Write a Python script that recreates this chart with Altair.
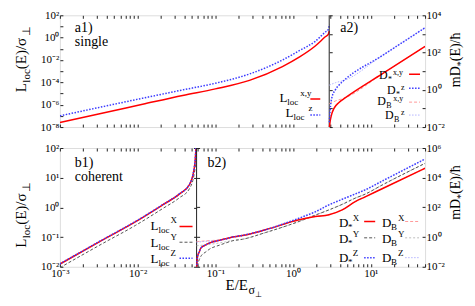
import altair as alt
import pandas as pd
import math

FONT = "Liberation Serif"

# ---------------- data ----------------
# a1) single impurity, localisation length
a1_E = [0.001, 0.0036, 0.0116, 0.038, 0.1, 0.275, 0.73, 1.2, 1.93, 2.6, 2.85, 2.92]
a1_Lxy = [2.6e-8, 1.8e-7, 1.1e-6, 6.8e-6, 2.6e-5, 1.5e-4, 2.6e-3, 1.8e-2, 0.18, 1.2, 2.1, 3.8]
a1_Lz = [1.0e-7, 6.8e-7, 3.8e-6, 2.1e-5, 8.3e-5, 5.6e-4, 1.0e-2, 6.8e-2, 0.47, 3.2, 5.6, 15]

# a2) single impurity, diffusion
a2_Exy = [2.93, 3.0, 3.1, 3.36, 3.9, 4.73, 14, 50]
a2_Dxy = [0.008, 0.02, 0.04, 0.1, 0.21, 0.38, 7.1, 214]
a2_Ez = [2.93, 3.0, 3.16, 3.5, 3.89, 4.5, 14, 50]
a2_Dz = [0.018, 0.08, 0.38, 1.0, 1.78, 3.16, 68, 2150]
a2_EBxy = [2.93, 3.5, 4.73, 14, 50]
a2_DBxy = [0.18, 0.25, 0.38, 7.1, 214]
a2_EBz = [2.93, 3.5, 4.5, 14, 50]
a2_DBz = [1.78, 2.4, 3.16, 68, 2150]

# b1) coherent, localisation length
b1_E = [0.001, 0.00356, 0.00945, 0.021, 0.0344, 0.0463, 0.0536, 0.0557, 0.0563, 0.0572]
b1_LX = [0.0123, 0.080, 0.33, 1.21, 2.78, 5.7, 21, 58, 100, 300]
b1_LY = [0.0093, 0.061, 0.25, 0.91, 2.1, 4.2, 14, 32, 60, 180]
b1_LZ = [0.0125, 0.082, 0.34, 1.23, 2.85, 5.9, 22, 62, 110, 320]

# b2) coherent, diffusion
b2_E = [0.0574, 0.0591, 0.0621, 0.0651, 0.0755, 0.0835, 0.112, 0.136, 0.166, 0.223,
        0.441, 1.19, 1.93, 2.9, 4.29, 6.31, 8.47, 14, 50]
b2_DX = [0.0079, 0.05, 0.1, 0.18, 0.30, 0.39, 0.60, 0.76, 1.0, 1.26,
         3.1, 14.5, 24, 32, 68, 245, 510, 1800, 43600]
b2_DY = [0.005, 0.0135, 0.03, 0.05, 0.1, 0.15, 0.28, 0.4, 0.56, 0.71,
         2.0, 11.2, 30, 68, 160, 420, 780, 3200, 93000]
b2_DZ = [0.0079, 0.05, 0.1, 0.18, 0.30, 0.39, 0.60, 0.76, 1.0, 1.3,
         3.1, 18.6, 50, 148, 350, 800, 1510, 5900, 182000]
b2_EB = [0.0574, 0.0755, 0.112, 0.136, 0.166, 0.223, 0.441, 1.19, 1.93, 2.9, 4.29, 6.31, 8.47, 14, 50]
b2_DBX = [0.50, 0.55, 0.65, 0.76, 1.0, 1.26, 3.1, 14.5, 24, 32, 68, 245, 510, 1800, 43600]
b2_DBY = [0.26, 0.30, 0.40, 0.48, 0.58, 0.71, 2.0, 11.2, 30, 68, 160, 420, 780, 3200, 93000]
b2_DBZ = [0.45, 0.52, 0.62, 0.76, 1.0, 1.3, 3.1, 18.6, 50, 148, 350, 800, 1510, 5900, 182000]

E_MIN, E_MAX = 0.001, 50
SPLIT_A = 2.92
SPLIT_B = 0.0574

X_TICKS = [k * 10.0 ** e for e in range(-3, 2) for k in range(1, 10) if k * 10.0 ** e <= E_MAX]

# ---------------- styles ----------------
RED = "#ff0000"
BLUE = "#3b3bff"
GREY = "#555555"
LRED = "#ff9a9a"
LBLUE = "#b4b4ff"
LGREY = "#bdbdbd"
INK = "#222222"

W = 366
H_TOP = 112
H_BOT = 119

EXP = "round(log(datum.value)/LN10)"
SUP = "'⁰¹²³⁴⁵⁶⁷⁸⁹'"


def label_expr(step):
    return (f"(abs(log(datum.value)/LN10 - {EXP}) > 0.01 || ({EXP}) % {step} != 0) ? '' : "
            f"'10' + (({EXP}) < 0 ? '⁻' : '') + substring({SUP}, abs({EXP}), abs({EXP}) + 1)")


XSCALE = alt.Scale(type="log", domain=[E_MIN, E_MAX], nice=False)


def x_axis(orient, labels):
    return alt.Axis(orient=orient, values=X_TICKS, labelExpr=label_expr(1), labels=labels, title=None,
                    grid=False, domain=False, tickSize={"expr": "-3"}, tickColor=INK,
                    labelFont=FONT, labelFontSize=11, labelColor="#000", labelPadding=4,
                    labelFlush=False)


def y_axis(orient, ticks, step):
    return alt.Axis(orient=orient, values=ticks, labelExpr=label_expr(step), title=None,
                    grid=False, domain=False, tickSize={"expr": "-3"}, tickColor=INK,
                    labelFont=FONT, labelFontSize=11, labelColor="#000", labelPadding=4,
                    labelFlush=False)


def decades(a, b, step=1):
    return [10.0 ** e for e in range(a, b + 1, step)]


def enc(chart, xax, yscale, yax):
    return chart.encode(
        x=alt.X("E:Q", scale=XSCALE, axis=xax),
        y=alt.Y("v:Q", scale=yscale, axis=yax),
    )


def curve(E, V, color, width=1.5, dash=None, xax=None, yscale=None, yax=None):
    df = pd.DataFrame({"E": E, "v": V})
    kw = dict(color=color, strokeWidth=width, clip=True, interpolate="monotone")
    if dash:
        kw["strokeDash"] = dash
    return enc(alt.Chart(df).mark_line(**kw), xax, yscale, yax)


def rich(E, V, pieces, xax, yscale, yax):
    """pieces: list of (text, fontsize, dx, dy)"""
    layers = []
    for t, fs, dx, dy in pieces:
        df = pd.DataFrame({"E": [E], "v": [V], "t": [t]})
        layers.append(enc(alt.Chart(df).mark_text(align="left", baseline="alphabetic", font=FONT,
                                                  fontSize=fs, dx=dx, dy=dy, color="#000"),
                          xax, yscale, yax).encode(text="t:N"))
    return layers


def fixed_text(x, y, t, fs, angle=0, align="left", baseline="alphabetic"):
    df = pd.DataFrame({"t": [t]})
    kw = dict(align=align, baseline=baseline, font=FONT, fontSize=fs, color="#000")
    if angle:
        kw["angle"] = angle
    return alt.Chart(df).mark_text(**kw).encode(x=alt.value(x), y=alt.value(y), text="t:N")


def rot_title(x_base, y_center, pieces):
    """rotated (reading upward) title built from pieces (text, size, width, shift)"""
    total = sum(p[2] for p in pieces)
    y = y_center + total / 2
    out = []
    for t, fs, w, shift in pieces:
        out.append(fixed_text(x_base + shift, y, t, fs, angle=270))
        y -= w
    return out


def split_px(split):
    return W * math.log10(split / E_MIN) / math.log10(E_MAX / E_MIN)


def mirror(yscale, ticks, orient, offset):
    """extra tick marks along the inner split line (same y scale as a panel)"""
    df = pd.DataFrame({"E": [1.0], "v": [ticks[0]]})
    return alt.Chart(df).mark_point(opacity=0).encode(
        x=alt.X("E:Q", scale=XSCALE, axis=None),
        y=alt.Y("v:Q", scale=yscale,
                axis=alt.Axis(orient=orient, values=ticks, labels=False, title=None, grid=False,
                              domain=False, tickSize=3, tickColor=INK,
                              offset={"expr": str(-round(offset, 1))})),
    )


L_TITLE = [("L", 15, 9.5, 0), ("loc", 11, 13.5, 4), ("(E)/σ", 15, 33, 0), ("⊥", 11, 8, 4)]
D_TITLE = [("mD", 14, 21, 0), ("*", 10, 5, 4), ("(E)/ħ", 14, 28, 0)]

# ---------------- top row ----------------
xa_top_b = x_axis("bottom", False)
xa_top_t = x_axis("top", False)
ys_a1 = alt.Scale(type="log", domain=[1e-8, 1e2], nice=False)
ya_a1 = y_axis("left", decades(-8, 2), 2)
ys_a2 = alt.Scale(type="log", domain=[1e-2, 1e4], nice=False)
ya_a2 = y_axis("right", decades(-2, 4), 2)

left_a = [
    curve(a1_E, a1_Lxy, RED, 1.5, None, xa_top_b, ys_a1, ya_a1),
    curve(a1_E, a1_Lz, BLUE, 1.5, [1.5, 1.5], xa_top_b, ys_a1, ya_a1),
    curve([1.67, 2.24], [3.2e-6, 3.2e-6], RED, 1.5, None, xa_top_b, ys_a1, ya_a1),
    curve([1.67, 2.24], [1.2e-7, 1.2e-7], BLUE, 1.5, [1.5, 1.5], xa_top_b, ys_a1, ya_a1),
    alt.Chart(pd.DataFrame({"E": [SPLIT_A]})).mark_rule(color=INK, strokeWidth=1).encode(
        x=alt.X("E:Q", scale=XSCALE, axis=xa_top_b)),
]
left_a += rich(0.667, 1.7e-6, [("L", 13, 0, 0), ("loc", 9, 8, 3), ("x,y", 9, 21, -6)], xa_top_b, ys_a1, ya_a1)
left_a += rich(0.80, 7.8e-8, [("L", 13, 0, 0), ("loc", 9, 8, 3), ("z", 9, 23, -6)], xa_top_b, ys_a1, ya_a1)
left_a += [fixed_text(15, 17, "a1)", 14), fixed_text(15, 31, "single", 14),
           fixed_text(W - 85, 17, "a2)", 14)]
left_a += rot_title(-34, 45, L_TITLE)
left_a += rot_title(W + 35, 45, D_TITLE)

right_a = [
    curve(a2_EBxy, a2_DBxy, LRED, 1.0, [3, 2], xa_top_t, ys_a2, ya_a2),
    curve(a2_EBz, a2_DBz, LBLUE, 1.0, [1.5, 1.5], xa_top_t, ys_a2, ya_a2),
    curve(a2_Exy, a2_Dxy, RED, 1.5, None, xa_top_t, ys_a2, ya_a2),
    curve(a2_Ez, a2_Dz, BLUE, 1.5, [1.5, 1.5], xa_top_t, ys_a2, ya_a2),
    curve([31.1, 43], [6.9, 6.9], RED, 1.5, None, xa_top_t, ys_a2, ya_a2),
    curve([31.1, 43], [1.23, 1.23], BLUE, 1.5, [1.5, 1.5], xa_top_t, ys_a2, ya_a2),
    curve([31.1, 43], [0.218, 0.218], LRED, 1.0, [3, 2], xa_top_t, ys_a2, ya_a2),
    curve([31.1, 43], [0.044, 0.044], LBLUE, 1.0, [1.5, 1.5], xa_top_t, ys_a2, ya_a2),
]
for E0, v, sub, sup in [(12.8, 3.73, "*", "x,y"), (16.2, 0.586, "*", "z"),
                        (12.1, 0.151, "B", "x,y"), (15.3, 0.027, "B", "z")]:
    off = 14 if sub == "*" else 16
    right_a += rich(E0, v, [("D", 12, 0, 0), (sub, 8, 9, 3), (sup, 8, off, -4)], xa_top_t, ys_a2, ya_a2)

sa = split_px(SPLIT_A)
top = alt.layer(
    alt.layer(*left_a), alt.layer(*right_a),
    mirror(ys_a2, decades(-2, 4), "right", W - sa),
).resolve_scale(y="independent").resolve_axis(x="independent").properties(width=W, height=H_TOP)

# ---------------- bottom row ----------------
xa_bot_b = x_axis("bottom", True)
xa_bot_t = x_axis("top", False)
ys_b1 = alt.Scale(type="log", domain=[1e-2, 1e2], nice=False)
ya_b1 = y_axis("left", decades(-2, 2), 1)
ys_b2 = alt.Scale(type="log", domain=[1e-2, 1e6], nice=False)
ya_b2 = y_axis("right", decades(-2, 6, 2), 2)

left_b = [
    curve(b1_E, b1_LY, GREY, 1.0, [3, 2], xa_bot_b, ys_b1, ya_b1),
    curve(b1_E, b1_LX, RED, 1.5, None, xa_bot_b, ys_b1, ya_b1),
    curve(b1_E, b1_LZ, BLUE, 1.5, [1.5, 1.5], xa_bot_b, ys_b1, ya_b1),
    curve([0.0346, 0.0509], [0.226, 0.226], RED, 1.5, None, xa_bot_b, ys_b1, ya_b1),
    curve([0.0346, 0.0509], [0.067, 0.067], GREY, 1.0, [3, 2], xa_bot_b, ys_b1, ya_b1),
    curve([0.0346, 0.0509], [0.0195, 0.0195], BLUE, 1.5, [1.5, 1.5], xa_bot_b, ys_b1, ya_b1),
    alt.Chart(pd.DataFrame({"E": [SPLIT_B]})).mark_rule(color=INK, strokeWidth=1).encode(
        x=alt.X("E:Q", scale=XSCALE, axis=xa_bot_b)),
]
for v, s in [(0.175, "X"), (0.0468, "Y"), (0.0134, "Z")]:
    left_b += rich(0.0147, v, [("L", 13, 0, 0), ("loc", 9, 8, 3), (s, 9, 20, -7)], xa_bot_b, ys_b1, ya_b1)
left_b += [fixed_text(15, 19, "b1)", 14), fixed_text(15, 33, "coherent", 14),
           fixed_text(148, 19, "b2)", 14)]
left_b += rot_title(-34, 68, L_TITLE)
left_b += rot_title(W + 35, 45, D_TITLE)
left_b += [fixed_text(W / 2 - 17, H_BOT + 23, "E/E", 15),
           fixed_text(W / 2 + 6, H_BOT + 27, "σ", 12),
           fixed_text(W / 2 + 13, H_BOT + 30, "⊥", 8)]

right_b = [
    curve(b2_EB, b2_DBY, LGREY, 1.0, [2, 2], xa_bot_t, ys_b2, ya_b2),
    curve(b2_EB, b2_DBX, LRED, 1.0, [3, 2], xa_bot_t, ys_b2, ya_b2),
    curve(b2_EB, b2_DBZ, LBLUE, 1.0, [1.5, 1.5], xa_bot_t, ys_b2, ya_b2),
    curve(b2_E, b2_DY, GREY, 1.0, [3, 2], xa_bot_t, ys_b2, ya_b2),
    curve(b2_E, b2_DX, RED, 1.5, None, xa_bot_t, ys_b2, ya_b2),
    curve(b2_E, b2_DZ, BLUE, 1.5, [1.5, 1.5], xa_bot_t, ys_b2, ya_b2),
    curve([8.22, 11.4], [11.2, 11.2], RED, 1.5, None, xa_bot_t, ys_b2, ya_b2),
    curve([8.22, 11.4], [0.89, 0.89], GREY, 1.0, [3, 2], xa_bot_t, ys_b2, ya_b2),
    curve([8.22, 11.4], [0.041, 0.041], BLUE, 1.5, [1.5, 1.5], xa_bot_t, ys_b2, ya_b2),
    curve([27.7, 41.8], [11.2, 11.2], LRED, 1.0, [3, 2], xa_bot_t, ys_b2, ya_b2),
    curve([27.7, 41.8], [0.89, 0.89], LGREY, 1.0, [2, 2], xa_bot_t, ys_b2, ya_b2),
    curve([27.7, 41.8], [0.041, 0.041], LBLUE, 1.0, [1.5, 1.5], xa_bot_t, ys_b2, ya_b2),
]
for v, s in [(4.9, "X"), (0.41, "Y"), (0.022, "Z")]:
    right_b += rich(3.89, v, [("D", 13, 0, 0), ("*", 9, 9, 3), (s, 9, 14, -6)], xa_bot_t, ys_b2, ya_b2)
    right_b += rich(14.0, v, [("D", 13, 0, 0), ("B", 9, 9, 3), (s, 9, 16, -6)], xa_bot_t, ys_b2, ya_b2)

sb = split_px(SPLIT_B)
bottom = alt.layer(
    alt.layer(*left_b), alt.layer(*right_b),
    mirror(ys_b1, decades(-2, 2), "left", sb),
    mirror(ys_b2, decades(-2, 6, 2), "right", W - sb),
).resolve_scale(y="independent").resolve_axis(x="independent").properties(width=W, height=H_BOT)

chart = alt.vconcat(top, bottom, spacing=8).properties(
    padding={"left": 5, "top": 0, "right": 0, "bottom": 0}
).configure_view(stroke=INK, strokeWidth=1).configure(background="white")

chart.save("out.html", embed_options={"renderer": "svg", "actions": False})
